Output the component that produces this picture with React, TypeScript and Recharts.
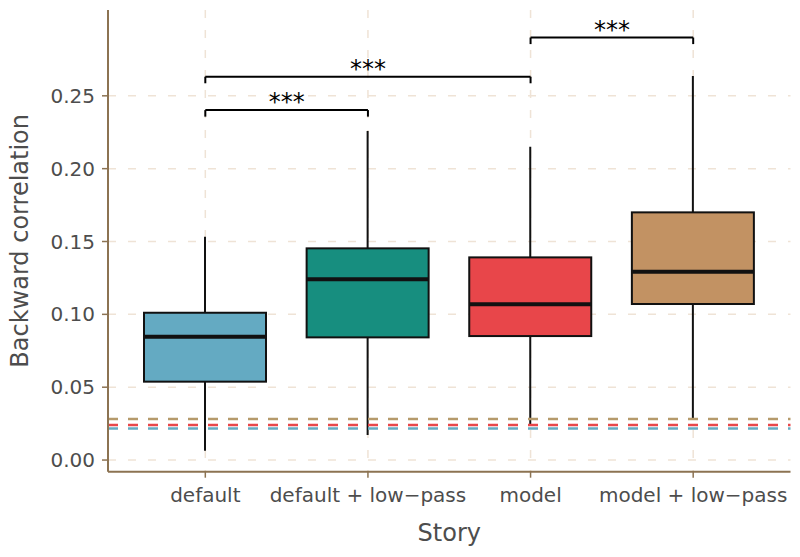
import { ComposedChart, Bar, XAxis, YAxis, CartesianGrid, ReferenceLine } from 'recharts';

const categories = ['default', 'default + low−pass', 'model', 'model + low−pass'];
const whiskerLow = [0.0064, 0.0172, 0.024, 0.0286];
const q1 = [0.0538, 0.0842, 0.0851, 0.1071];
const median = [0.0846, 0.1241, 0.1069, 0.1292];
const q3 = [0.1011, 0.1453, 0.1391, 0.17];
const whiskerHigh = [0.1533, 0.2258, 0.215, 0.2636];
const boxColors = ['#64AAC2', '#178E7F', '#E8464A', '#C29263'];

// chance-level lines
const chanceValues = [0.0217, 0.024, 0.0281];
const chanceColors = ['#64AAC2', '#E8464A', '#B59A6B'];

// significance brackets
const bracketFrom = ['default', 'default', 'model'];
const bracketTo = ['default + low−pass', 'model', 'model + low−pass'];
const bracketY = [0.2402, 0.2631, 0.29];
const bracketTip = 0.0045;

const yTicks = [0, 0.05, 0.1, 0.15, 0.2, 0.25];

const data = categories.map((name, i) => ({
  name,
  low: whiskerLow[i],
  q1: q1[i],
  median: median[i],
  q3: q3[i],
  high: whiskerHigh[i],
  fill: boxColors[i],
}));

const AXIS = '#8C7352';
const TEXT = '#4D4D4D';
const FONT = 'DejaVu Sans';

function BoxShape(props: any) {
  const { x, y, width, height, payload } = props;
  const top = Math.min(y, y + height);
  const h = Math.abs(height);
  const k = h / (payload.q3 - payload.q1);
  const py = (v: number) => top + (payload.q3 - v) * k;
  const cx = x + width / 2;
  return (
    <g>
      <line x1={cx} x2={cx} y1={py(payload.high)} y2={top} stroke="#111" strokeWidth={2} />
      <line x1={cx} x2={cx} y1={top + h} y2={py(payload.low)} stroke="#111" strokeWidth={2} />
      <rect x={x} y={top} width={width} height={h} fill={payload.fill} stroke="#111" strokeWidth={2} />
      <line x1={x} x2={x + width} y1={py(payload.median)} y2={py(payload.median)} stroke="#111" strokeWidth={4} />
    </g>
  );
}

export default function App() {
  return (
    <div style={{ position: 'absolute', left: 0, top: 0 }}>
      <ComposedChart
        width={800}
        height={557}
        data={data}
        margin={{ top: 10, right: 9.5, left: 38, bottom: 45.3 }}
      >
        <CartesianGrid
          stroke="#EFE3D6"
          strokeWidth={1.5}
          strokeDasharray="8 12"
          horizontalValues={yTicks}
          verticalValues={categories}
        />
        <XAxis
          dataKey="name"
          type="category"
          padding={{ left: 16, right: 16 }}
          height={40}
          axisLine={{ stroke: AXIS, strokeWidth: 2 }}
          tickLine={{ stroke: AXIS, strokeWidth: 1.5 }}
          tickSize={6}
          tickMargin={10}
          tick={{ fill: TEXT, fontSize: 20, fontFamily: FONT }}
          interval={0}
          label={{ value: 'Story', position: 'insideBottom', offset: -29, fill: TEXT, fontSize: 24, fontFamily: FONT }}
        />
        <YAxis
          type="number"
          domain={[-0.008, 0.3089]}
          allowDataOverflow
          ticks={yTicks}
          tickFormatter={(v: number) => v.toFixed(2)}
          width={70}
          axisLine={{ stroke: AXIS, strokeWidth: 2 }}
          tickLine={{ stroke: AXIS, strokeWidth: 1.5 }}
          tickSize={6}
          tickMargin={7}
          tick={{ fill: TEXT, fontSize: 20, fontFamily: FONT }}
          label={{
            value: 'Backward correlation',
            angle: -90,
            position: 'insideLeft',
            offset: -19,
            fill: TEXT,
            fontSize: 24,
            fontFamily: FONT,
            style: { textAnchor: 'middle' },
          }}
        />
        <Bar
          dataKey={(d: any) => [d.q1, d.q3]}
          barSize={122}
          shape={BoxShape}
          isAnimationActive={false}
        />
        {chanceValues.map((v, i) => (
          <ReferenceLine
            key={'c' + i}
            y={v}
            stroke={chanceColors[i]}
            strokeWidth={2.5}
            strokeDasharray="10 10"
          />
        ))}
        {bracketY.map((by, i) => (
          <ReferenceLine
            key={'bh' + i}
            segment={[{ x: bracketFrom[i], y: by }, { x: bracketTo[i], y: by }]}
            stroke="#000"
            strokeWidth={2}
            label={{ value: '***', position: 'top', offset: 0, fill: '#000', fontSize: 24, fontFamily: FONT }}
          />
        ))}
        {bracketY.map((by, i) => (
          <ReferenceLine
            key={'bl' + i}
            segment={[{ x: bracketFrom[i], y: by }, { x: bracketFrom[i], y: by - bracketTip }]}
            stroke="#000"
            strokeWidth={2}
          />
        ))}
        {bracketY.map((by, i) => (
          <ReferenceLine
            key={'br' + i}
            segment={[{ x: bracketTo[i], y: by }, { x: bracketTo[i], y: by - bracketTip }]}
            stroke="#000"
            strokeWidth={2}
          />
        ))}
      </ComposedChart>
    </div>
  );
}
